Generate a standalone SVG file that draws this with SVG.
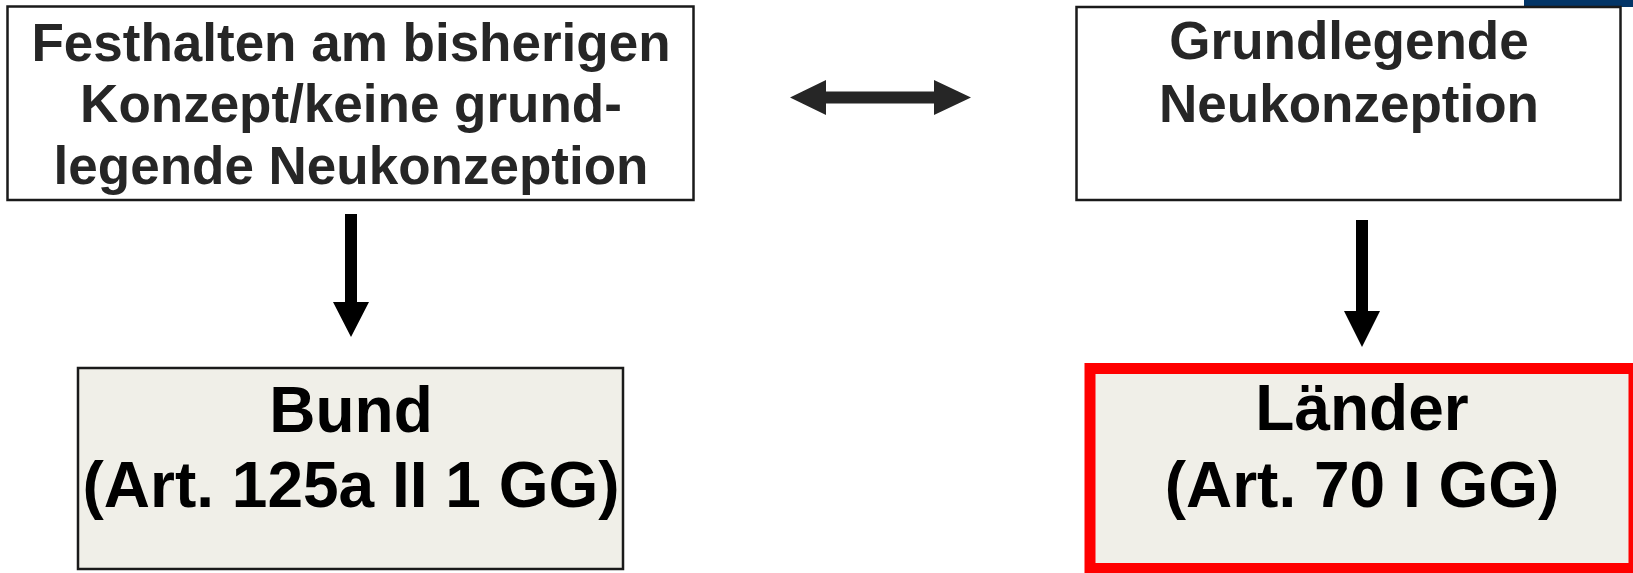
<svg xmlns="http://www.w3.org/2000/svg" width="1633" height="573" viewBox="0 0 1633 573">
<style>
.box{fill:#ffffff;stroke:#1a1a1a;stroke-width:2.5}
.fbox{fill:#f0efe8;stroke:#1a1a1a;stroke-width:2.5}
.red{fill:#f0efe8;stroke:#ff0000;stroke-width:11}
.t1{font-family:"Liberation Sans",Arial,sans-serif;font-weight:bold;font-size:53px;fill:#262626;text-anchor:middle}
.t2{font-family:"Liberation Sans",Arial,sans-serif;font-weight:bold;font-size:64px;fill:#000000;text-anchor:middle}
</style>
<rect x="1524" y="0" width="109" height="7" fill="#033567"/>
<g id="connectors">
<polygon points="790,97.5 826,80 826,91.5 934,91.5 934,80 971,97.5 934,115 934,103.5 826,103.5 826,115" fill="#262626"/>
<polygon points="345,214 357,214 357,302 369,302 351,337 333,302 345,302" fill="#000000"/>
<polygon points="1356,220 1368,220 1368,311 1380,311 1362,347 1344,311 1356,311" fill="#000000"/>
</g>
<g id="node-festhalten">
<rect class="box" x="7.5" y="6.5" width="686" height="193.5"/>
<text class="t1" x="351" y="61">Festhalten am bisherigen</text>
<text class="t1" x="351" y="122">Konzept/keine grund-</text>
<text class="t1" x="351" y="184">legende Neukonzeption</text>
</g>
<g id="node-grundlegende">
<rect class="box" x="1076.5" y="7" width="544" height="193"/>
<text class="t1" x="1349" y="59">Grundlegende</text>
<text class="t1" x="1349" y="122">Neukonzeption</text>
</g>
<g id="node-bund">
<rect class="fbox" x="78" y="368" width="545" height="201"/>
<text class="t2" x="351" y="432">Bund</text>
<text class="t2" x="351" y="507">(Art. 125a II 1 GG)</text>
</g>
<g id="node-laender">
<rect class="red" x="1090" y="368.5" width="544" height="200"/>
<text class="t2" x="1362" y="430">Länder</text>
<text class="t2" x="1362" y="507">(Art. 70 I GG)</text>
</g>
</svg>
